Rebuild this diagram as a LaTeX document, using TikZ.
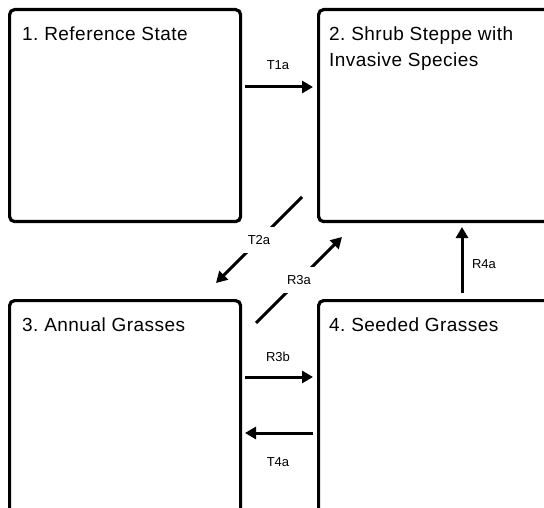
\documentclass[tikz,border=0pt]{standalone}
\usepackage{fontspec}
\setmainfont{Liberation Sans}
\usetikzlibrary{arrows.meta}
\frenchspacing
\begin{document}
\begin{tikzpicture}[x=1pt,y=-1pt,
  box/.style={draw, line width=3.2pt, rounded corners=5pt, anchor=north west, inner sep=0pt},
  title/.style={anchor=base west, inner sep=0pt, align=left, font=\fontsize{19}{26}\selectfont\addfontfeature{LetterSpace=2.5}},
  lbl/.style={font=\fontsize{13}{15}\selectfont, inner sep=0pt},
  gaplbl/.style={lbl, fill=white, inner xsep=4pt, inner ysep=8pt},
  arr/.style={line width=3pt, -{Triangle[length=11pt,width=12pt]}},
]
\useasboundingbox (0,0) rectangle (544,508);
\clip (0,0) rectangle (544,508);
% state boxes
\node[box, minimum width=231pt, minimum height=212pt] (s1) at (8,8) {};
\node[box, minimum width=260pt, minimum height=212pt] (s2) at (317,8) {};
\node[box, minimum width=231pt, minimum height=240pt] (s3) at (8,299) {};
\node[box, minimum width=260pt, minimum height=240pt] (s4) at (317,299) {};
% titles
\node[title] (t1) at (22,40.5) {1. Reference State};
\node[title] (t2) at (329,66.5) {2. Shrub Steppe with\\Invasive Species};
\node[title] (t3) at (22,331.5) {3. Annual Grasses};
\node[title] (t4) at (329,331.5) {4. Seeded Grasses};
% connector end points
\coordinate (a1) at (245,87);  \coordinate (b1) at (313,87);
\coordinate (a2) at (302,197); \coordinate (b2) at (216,283);
\coordinate (a3) at (256,323); \coordinate (b3) at (342,237);
\coordinate (a4) at (462,293); \coordinate (b4) at (462,227);
\coordinate (a5) at (245,377); \coordinate (b5) at (313,377);
\coordinate (a6) at (313,433); \coordinate (b6) at (245,433);
% connectors
\draw[arr] (a1) -- (b1);
\node[lbl] (l1) at (278,65) {T1a};
\draw[arr] (a2) -- node[gaplbl] (l2) {T2a} (b2);
\draw[arr] (a3) -- node[gaplbl] (l3) {R3a} (b3);
\draw[arr] (a4) -- (b4);
\node[lbl] (l4) at (484,264) {R4a};
\draw[arr] (a5) -- (b5);
\node[lbl] (l5) at (278,357) {R3b};
\draw[arr] (a6) -- (b6);
\node[lbl] (l6) at (278,462) {T4a};
\end{tikzpicture}
\end{document}
